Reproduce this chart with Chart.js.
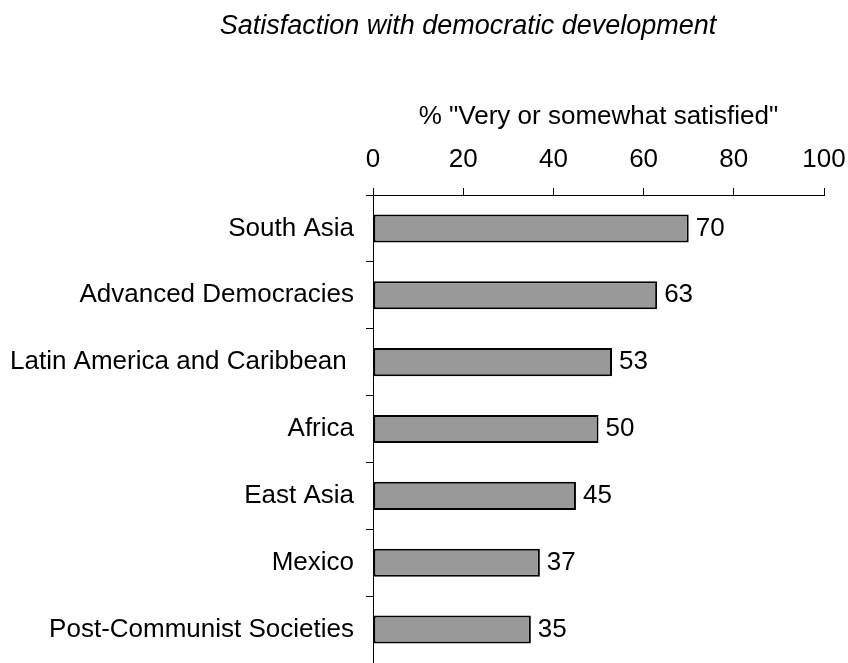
<!DOCTYPE html>
<html>
<head>
<meta charset="utf-8">
<script src="https://cdn.jsdelivr.net/npm/chart.js@4"></script>
<style>
  html, body { margin: 0; padding: 0; background: #fff; overflow: hidden; }
  #wrap { width: 848px; height: 663px; }
</style>
</head>
<body>
<div id="wrap"><canvas id="c" width="848" height="663"></canvas></div>
<script>
const chartTitle = "Satisfaction with democratic development";
const axisTitle = '% "Very or somewhat satisfied"';
const categories = [
  "South Asia",
  "Advanced Democracies",
  "Latin America and Caribbean ",
  "Africa",
  "East Asia",
  "Mexico",
  "Post-Communist Societies"
];
const satisfied = [70, 63, 53, 50, 45, 37, 35];
const xTicks = [0, 20, 40, 60, 80, 100];

const FONT = "'Liberation Sans', Arial, sans-serif";
Chart.defaults.color = '#000';
Chart.defaults.font.family = FONT;

const titleAndLabels = {
  id: 'titleAndLabels',
  afterDraw(chart) {
    const ctx = chart.ctx;
    ctx.save();
    ctx.fillStyle = '#000';
    ctx.font = "italic 27px " + FONT;
    ctx.textAlign = 'center';
    ctx.textBaseline = 'middle';
    ctx.fillText(chartTitle, 468, 26);
    ctx.restore();
  },
  afterDatasetsDraw(chart) {
    const ctx = chart.ctx;
    const meta = chart.getDatasetMeta(0);
    ctx.save();
    ctx.font = "26px " + FONT;
    ctx.fillStyle = '#000';
    ctx.textAlign = 'left';
    ctx.textBaseline = 'middle';
    meta.data.forEach((bar, i) => {
      ctx.fillText(String(satisfied[i]), bar.x + 7, bar.y);
    });
    ctx.restore();
  }
};

new Chart(document.getElementById('c'), {
  type: 'bar',
  data: {
    labels: categories,
    datasets: [{
      data: satisfied,
      backgroundColor: '#999999',
      borderColor: '#000',
      borderWidth: 2,
      borderSkipped: false,
      barPercentage: 0.42,
      categoryPercentage: 1
    }]
  },
  options: {
    indexAxis: 'y',
    responsive: false,
    animation: false,
    layout: { padding: { top: 41.4, right: 24, bottom: 0, left: 0 } },
    plugins: {
      legend: { display: false },
      tooltip: { enabled: false },
      title: { display: false }
    },
    scales: {
      x: {
        position: 'top',
        min: 0,
        max: 100,
        afterBuildTicks(scale) { scale.ticks = xTicks.map(v => ({ value: v })); },
        afterFit(scale) {
          scale.height = 195 - 41.4;
          scale.paddingLeft = 0;
          scale.paddingRight = 0;
        },
        ticks: { font: { size: 26 }, padding: 13, color: '#000', maxRotation: 0 },
        grid: { drawOnChartArea: false, drawTicks: true, tickLength: 7, color: '#000', lineWidth: 1 },
        border: { display: true, color: '#000', width: 1 },
        title: {
          display: true,
          text: axisTitle,
          color: '#000',
          font: { size: 26 },
          padding: { top: 60, bottom: 0 }
        }
      },
      y: {
        offset: true,
        afterFit(scale) {
          scale.width = 373;
          scale.paddingTop = 0;
          scale.paddingBottom = 0;
        },
        ticks: { font: { size: 26 }, padding: 12, color: '#000' },
        grid: { offset: true, drawOnChartArea: false, drawTicks: true, tickLength: 7, color: '#000', lineWidth: 1 },
        border: { display: true, color: '#000', width: 1 }
      }
    }
  },
  plugins: [titleAndLabels]
});
</script>
</body>
</html>
